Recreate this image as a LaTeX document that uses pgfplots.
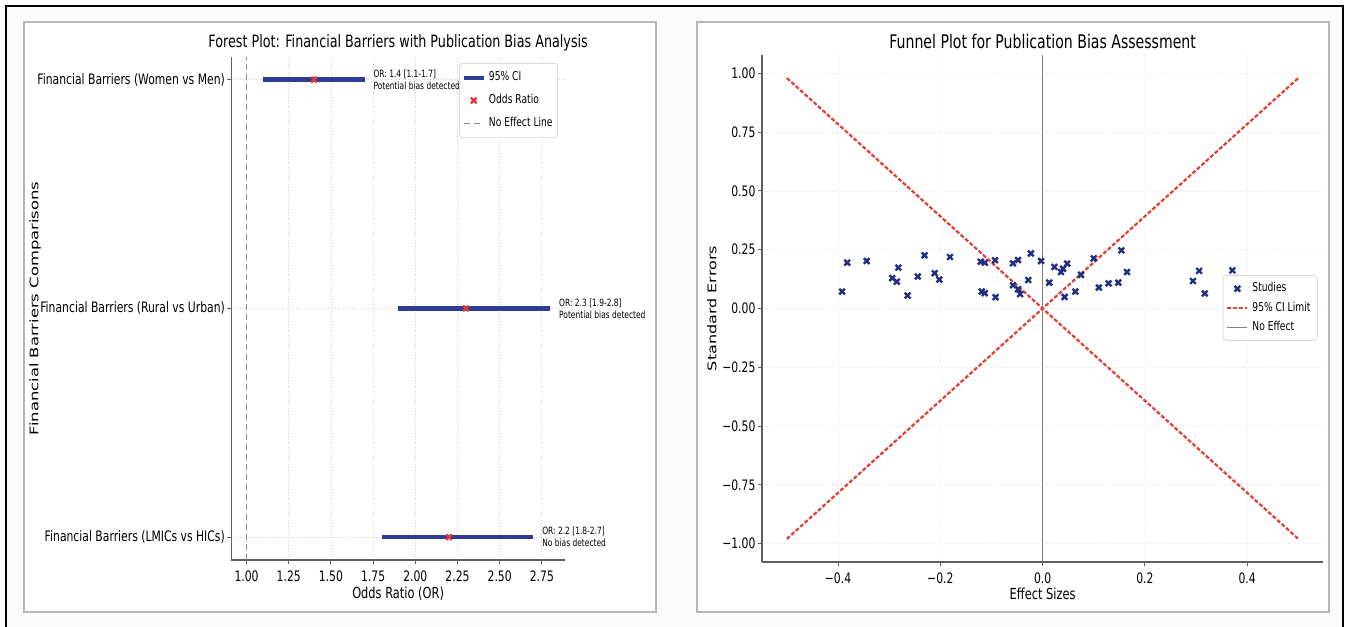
\documentclass[border=0pt]{standalone}
\usepackage{fontspec}
\setmainfont{DejaVu Sans}[FakeStretch=0.75]
\newfontfamily\rotfont{DejaVu Sans}
\usepackage{graphicx}
\usepackage{pgfplots}
\pgfplotsset{compat=1.18}

\definecolor{ciblue}{RGB}{45,60,150}
\definecolor{orred}{RGB}{232,52,52}
\definecolor{studyblue}{RGB}{36,46,128}
\definecolor{funred}{RGB}{228,62,50}
\definecolor{spine}{RGB}{95,95,95}
\definecolor{panel}{RGB}{185,181,177}

\newcommand{\tickfont}{\fontsize{7.2}{8}\selectfont}
\newcommand{\labfont}{\fontsize{7.6}{9}\selectfont}
\newcommand{\legfont}{\fontsize{6.1}{7}\selectfont}
\newcommand{\annfont}{\fontsize{5}{6}\selectfont}

\pgfplotsset{
  panelaxis/.style={
    scale only axis,
    anchor=south west,
    axis lines=left,
    axis line style={-, spine, line width=0.7pt},
    tick align=outside,
    major tick length=2pt,
    tick style={spine, line width=0.5pt},
    ticklabel style={font=\tickfont},
    yticklabel style={inner xsep=1pt},
    grid=major,
    grid style={densely dotted, black!18, line width=0.4pt},
    clip=false,
    legend cell align=left,
  },
  shortline/.style={legend image code/.code={\draw[##1] (0pt,0pt) -- (10pt,0pt);}},
  markleg/.style={legend image code/.code={\draw[mark repeat=1,mark phase=1,##1] plot coordinates {(5pt,0pt)};}},
}

\begin{document}
\begin{tikzpicture}
\useasboundingbox (0pt,0pt) rectangle (674pt,313pt);
\clip (0pt,0pt) rectangle (674pt,313pt);
\fill[white] (0pt,0pt) rectangle (674pt,313pt);
\fill[black!1.5] (3pt,-2pt) rectangle (671.5pt,310pt);
\draw[line width=1pt] (3pt,-2pt) -- (3pt,310pt) -- (671.5pt,310pt) -- (671.5pt,-2pt);
% panel frames
\filldraw[fill=white, draw=panel, line width=0.9pt] (12pt,7pt) rectangle (328pt,302pt);
\filldraw[fill=white, draw=panel, line width=0.9pt] (348.5pt,7pt) rectangle (664.5pt,302pt);

% ---------------- Forest plot ----------------
\begin{axis}[panelaxis, shortline,
  at={(115.6pt,33pt)}, width=166.9pt, height=251.6pt,
  xmin=0.909, xmax=2.887, ymin=-0.1, ymax=2.1,
  xtick={1,1.25,1.5,1.75,2,2.25,2.5,2.75},
  xticklabels={1.00,1.25,1.50,1.75,2.00,2.25,2.50,2.75},
  ytick={0,1,2},
  yticklabels={Financial Barriers (LMICs vs HICs),Financial Barriers (Rural vs Urban),Financial Barriers (Women vs Men)},
  legend style={at={(0.979,0.9875)}, anchor=north east, draw=black!15,
    rounded corners=1.5pt, fill=white, font=\legfont, row sep=1.2pt,
    inner xsep=1pt, inner ysep=2.2pt, nodes={inner xsep=1.5pt}},
]
\addplot[ciblue, line width=2.2pt] coordinates {(1.1,2) (1.7,2)};
\addlegendentry{95\% CI}
\addplot[ciblue, line width=2.2pt, forget plot] coordinates {(1.9,1) (2.8,1)};
\addplot[ciblue, line width=2.2pt, forget plot] coordinates {(1.8,0) (2.7,0)};
\addplot[orred, only marks, mark=x, mark size=2pt, line width=1.1pt, markleg]
  coordinates {(1.4,2) (2.3,1) (2.2,0)};
\addlegendentry{Odds Ratio}
\addplot[black!45, densely dashed, line width=0.6pt] coordinates {(1,-0.1) (1,2.1)};
\addlegendentry{No Effect Line}

\node[anchor=west, align=left, inner sep=0pt, font=\annfont] at (axis cs:1.75,2) {OR: 1.4 [1.1-1.7]\\Potential bias detected};
\node[anchor=west, align=left, inner sep=0pt, font=\annfont] at (axis cs:2.85,1) {OR: 2.3 [1.9-2.8]\\Potential bias detected};
\node[anchor=west, align=left, inner sep=0pt, font=\annfont] at (axis cs:2.75,0) {OR: 2.2 [1.8-2.7]\\No bias detected};

\node[font=\fontsize{8.5}{10}\selectfont] at (rel axis cs:0.5,1) [yshift=7pt] {Forest Plot: Financial Barriers with Publication Bias Analysis};
\node[font=\labfont] at (rel axis cs:0.5,0) [yshift=-17pt] {Odds Ratio (OR)};
\path (rel axis cs:0,0.5) ++(-98pt,0pt) node[rotate=90, font=\rotfont\fontsize{8.2}{9}\selectfont]
  {\scalebox{1}[0.72]{Financial Barriers Comparisons}};
\end{axis}

% ---------------- Funnel plot ----------------
\begin{axis}[panelaxis, shortline,
  at={(380.9pt,32pt)}, width=280.8pt, height=253.5pt,
  xmin=-0.549, xmax=0.549, ymin=-1.078, ymax=1.078,
  xtick={-0.4,-0.2,0,0.2,0.4},
  xticklabels={−0.4,−0.2,0.0,0.2,0.4},
  ytick={-1,-0.75,-0.5,-0.25,0,0.25,0.5,0.75,1},
  yticklabels={−1.00,−0.75,−0.50,−0.25,0.00,0.25,0.50,0.75,1.00},
  grid style={densely dotted, black!10, line width=0.4pt},
  legend style={at={(0.99,0.501)}, anchor=east, draw=black!15,
    rounded corners=1.5pt, fill=white, font=\legfont, row sep=-0.5pt,
    inner xsep=1.5pt, inner ysep=1.5pt, nodes={inner xsep=2pt}},
]
\addplot[studyblue, only marks, mark=x, mark size=2pt, line width=1.2pt, markleg]
  coordinates {
  (-0.392,0.072) (-0.382,0.195) (-0.344,0.202) (-0.294,0.129) (-0.285,0.114)
  (-0.282,0.174) (-0.264,0.055) (-0.244,0.136) (-0.231,0.226) (-0.211,0.150)
  (-0.202,0.123) (-0.181,0.219) (-0.121,0.199) (-0.113,0.195) (-0.093,0.205)
  (-0.119,0.072) (-0.113,0.065) (-0.092,0.048) (-0.058,0.192) (-0.048,0.206)
  (-0.058,0.099) (-0.048,0.082) (-0.044,0.061) (-0.023,0.234) (-0.028,0.121)
  (-0.003,0.202) (0.013,0.110) (0.023,0.177) (0.036,0.155) (0.040,0.169)
  (0.048,0.191) (0.043,0.049) (0.064,0.072) (0.075,0.143) (0.100,0.213)
  (0.110,0.089) (0.129,0.107) (0.148,0.110) (0.154,0.247) (0.165,0.155)
  (0.294,0.117) (0.306,0.160) (0.317,0.064) (0.371,0.162)
  };
\addlegendentry{Studies}
\addplot[funred, line width=1.1pt, dash pattern=on 2pt off 1pt] coordinates {(-0.5,-0.98) (0,0) (0.5,0.98)};
\addlegendentry{95\% CI Limit}
\addplot[funred, line width=1.1pt, dash pattern=on 2pt off 1pt, forget plot] coordinates {(-0.5,0.98) (0,0) (0.5,-0.98)};
\addplot[black!50, line width=0.7pt] coordinates {(0,-1.078) (0,1.078)};
\addlegendentry{No Effect}

\node[font=\fontsize{9.4}{11}\selectfont] at (rel axis cs:0.5,1) [yshift=7pt] {Funnel Plot for Publication Bias Assessment};
\node[font=\labfont] at (rel axis cs:0.5,0) [yshift=-16pt] {Effect Sizes};
\path (rel axis cs:0,0.5) ++(-25pt,0pt) node[rotate=90, font=\rotfont\fontsize{8}{9}\selectfont]
  {\scalebox{1}[0.75]{Standard Errors}};
\end{axis}
\end{tikzpicture}
\end{document}
